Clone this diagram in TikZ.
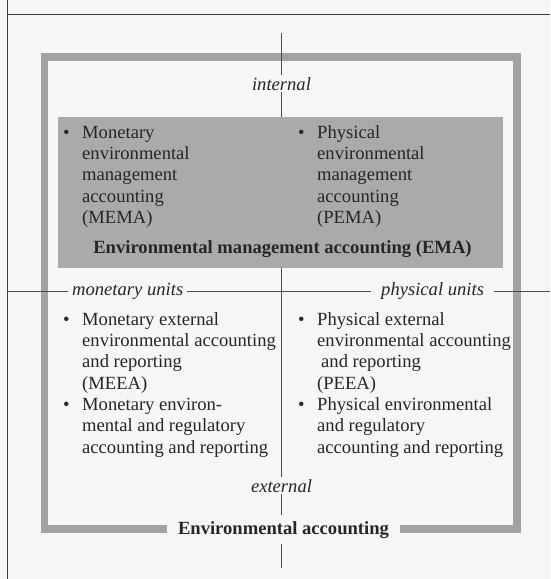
\documentclass[tikz,border=0pt]{standalone}
\usepackage{fontspec}
\setmainfont{Liberation Serif}
\definecolor{bg}{HTML}{F6F6F6}
\definecolor{framegray}{HTML}{A2A2A2}
\definecolor{boxgray}{HTML}{AAAAAA}
\definecolor{ink}{HTML}{262626}
\definecolor{rule}{HTML}{3A3A3A}
\newcommand\mybul{\llap{\textbullet\hspace{12.5pt}}}
\begin{document}
\begin{tikzpicture}[x=1pt,y=-1pt,
  txt/.style={inner sep=0pt, align=left, anchor=north west,
    font=\fontsize{18.6}{21.3}\selectfont, text=ink},
  lbl/.style={anchor=base, inner ysep=2pt, inner xsep=2pt, fill=bg,
    font=\fontsize{18.6}{21.3}\selectfont\itshape, text=ink},
  rulestyle/.style={draw=rule, line width=1.3pt},
  axis/.style={draw=rule!90, line width=0.9pt},
  framestyle/.style={draw=framegray, line width=7.5pt},
]
\fill[bg] (0,0) rectangle (550,579);
\useasboundingbox (0,0) rectangle (550,579);

% outer page rules
\coordinate (tl) at (7.4,14.7);
\coordinate (tr) at (550,14.7);
\coordinate (lt) at (7.4,0);
\coordinate (lb) at (7.4,579);
\draw[rulestyle] (tl) -- (tr);
\draw[rulestyle] (lt) -- (lb);

% grey frame of environmental accounting
\coordinate (fnw) at (44.5,57);
\coordinate (fse) at (517,529);
\draw[framestyle] (fnw) rectangle (fse);

% axes
\coordinate (ctop) at (281,33);
\coordinate (cbot) at (281,568);
\coordinate (hl) at (7.4,291);
\coordinate (hr) at (550,291);
\draw[axis] (ctop) -- (cbot);
\draw[axis] (hl) -- (hr);

% EMA box
\coordinate (enw) at (58,117);
\coordinate (ese) at (503,268);
\fill[boxgray] (enw) rectangle (ese);

% axis labels
\node[lbl] (internal) at (281.5,90) {internal};
\node[lbl] (external) at (281.5,492) {external};
\node[lbl, anchor=base west, inner xsep=4pt] (monetary) at (68,295) {monetary units};
\node[lbl, anchor=base west, inner xsep=10pt] (physical) at (371,295) {physical units};
\node[lbl, font=\fontsize{18.6}{21.3}\selectfont\bfseries, inner xsep=11pt, inner ysep=6pt]
  (ea) at (283.5,534) {Environmental accounting};

% EMA texts
\node[txt] (mema) at (82,123.1) {\strut\mybul Monetary\\ environmental\\ management\\ accounting\\ (MEMA)};
\node[txt] (pema) at (317,123.1) {\strut\mybul Physical\\ environmental\\ management\\ accounting\\ (PEMA)};
\node[txt, anchor=base, font=\fontsize{18.6}{21.3}\selectfont\bfseries] (ema) at (282.5,253)
  {Environmental management accounting (EMA)};

% external texts
\node[txt] (meea) at (82,310.1) {\strut\mybul Monetary external\\ environmental accounting\\ and reporting\\ (MEEA)\\ \mybul Monetary environ-\\ mental and regulatory\\ accounting and reporting};
\node[txt] (peea) at (317,310.1) {\strut\mybul Physical external\\ environmental accounting\\ \hspace*{4pt}and reporting\\ (PEEA)\\ \mybul Physical environmental\\ and regulatory\\ accounting and reporting};
\end{tikzpicture}
\end{document}
